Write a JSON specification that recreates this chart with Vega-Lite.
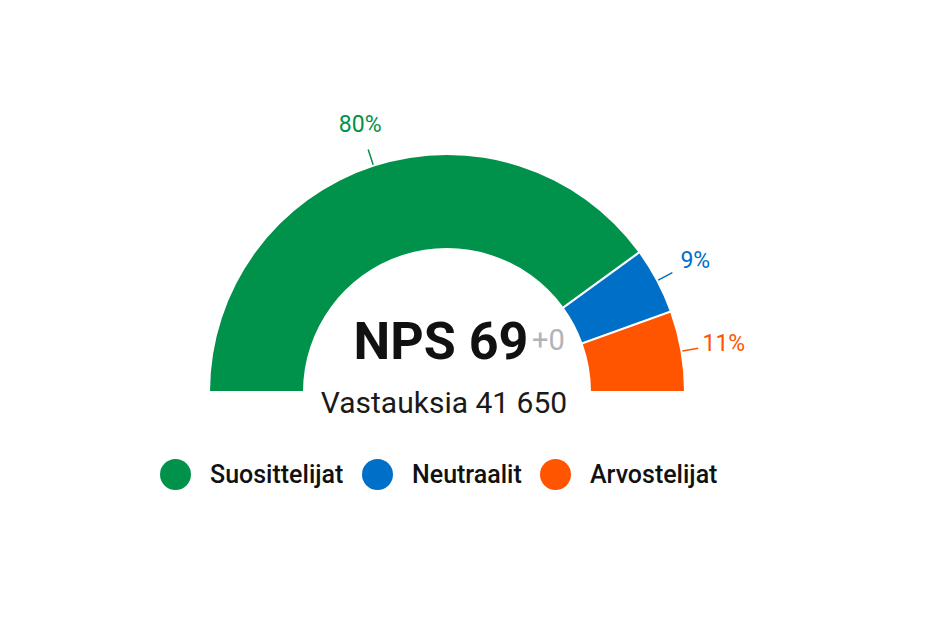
{
  "$schema": "https://vega.github.io/schema/vega-lite/v6.json",
  "width": 800,
  "height": 400,
  "autosize": {"type": "none"},
  "padding": {"left": 47, "top": 192, "right": 80, "bottom": 26},
  "background": "white",
  "config": {"view": {"stroke": null}, "font": "Roboto"},
  "layer": [
    {
      "data": {"name": "nps", "values": [
        {"group": "Suosittelijat", "share": 0.80, "rank": 1},
        {"group": "Neutraalit", "share": 0.09, "rank": 2},
        {"group": "Arvostelijat", "share": 0.11, "rank": 3}
      ]},
      "layer": [
        {
          "mark": {"type": "arc", "innerRadius": 144, "outerRadius": 237, "padAngle": 0.008},
          "encoding": {
            "theta": {"field": "share", "type": "quantitative", "stack": true,
              "scale": {"domain": [0, 1], "range": [-1.5707963, 1.5707963]}},
            "order": {"field": "rank", "type": "quantitative"},
            "color": {"field": "group", "type": "nominal",
              "scale": {"domain": ["Suosittelijat", "Neutraalit", "Arvostelijat"], "range": ["#00924a", "#006fc8", "#ff5400"]},
              "legend": {"title": null, "orient": "none", "direction": "horizontal", "legendX": 113, "legendY": 267,
                "symbolType": "circle", "symbolSize": 960, "symbolStrokeWidth": 0, "symbolOpacity": 1,
                "labelFont": "Roboto", "labelFontSize": 25, "labelFontWeight": 500, "labelColor": "#111111",
                "labelOffset": 19, "columnPadding": 18, "padding": 0}}
          }
        },
        {
          "mark": {"type": "arc", "filled": false, "innerRadius": 239, "outerRadius": 255, "padAngle": 3, "strokeWidth": 1.5},
          "encoding": {
            "theta": {"field": "share", "type": "quantitative", "stack": true},
            "order": {"field": "rank", "type": "quantitative"},
            "color": {"field": "group", "type": "nominal"}
          }
        },
        {
          "mark": {"type": "text", "radius": 281, "fontSize": 23, "fontWeight": "normal", "font": "Roboto", "baseline": "middle", "align": "center"},
          "encoding": {
            "theta": {"field": "share", "type": "quantitative", "stack": true},
            "order": {"field": "rank", "type": "quantitative"},
            "color": {"field": "group", "type": "nominal"},
            "text": {"field": "share", "type": "quantitative", "format": ".0%"}
          }
        }
      ]
    },
    {
      "data": {"values": [{"t": "NPS 69"}]},
      "mark": {"type": "text", "fontSize": 52, "fontWeight": "bold", "font": "Roboto", "align": "center", "baseline": "alphabetic", "dx": -6, "dy": -33, "color": "#111111"},
      "encoding": {"text": {"field": "t"}}
    },
    {
      "data": {"values": [{"t": "+0"}]},
      "mark": {"type": "text", "fontSize": 29, "font": "Roboto", "align": "left", "baseline": "alphabetic", "dx": 85, "dy": -42, "color": "#b0b4b8"},
      "encoding": {"text": {"field": "t"}}
    },
    {
      "data": {"values": [{"t": "Vastauksia 41 650"}]},
      "mark": {"type": "text", "fontSize": 30, "font": "Roboto", "align": "center", "baseline": "alphabetic", "dx": -3, "dy": 21, "color": "#1a1a1a"},
      "encoding": {"text": {"field": "t"}}
    }
  ]
}
